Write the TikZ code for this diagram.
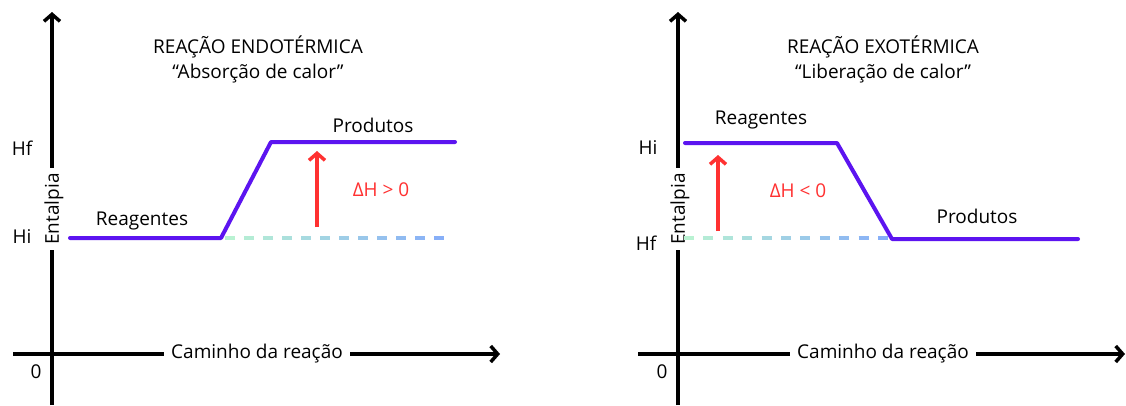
\documentclass[tikz,border=0pt]{standalone}
\usepackage{fontspec}
\setmainfont{Open Sans}
\usetikzlibrary{arrows.meta}
\definecolor{purp}{RGB}{92,20,240}
\definecolor{redarr}{RGB}{255,49,49}
\definecolor{dgreen}{RGB}{185,242,210}
\definecolor{dblue}{RGB}{135,175,248}
\begin{document}
\begin{tikzpicture}[x=1pt,y=-1pt,
  axis/.style={line width=3.5pt,-{Straight Barb[length=7pt,width=16pt,line width=3.5pt]}},
  level/.style={line width=4pt,draw=purp,line join=round,line cap=round},
  dharrow/.style={line width=4pt,draw=redarr,-{Straight Barb[length=7pt,width=16pt,line width=3.5pt]}},
  lbl/.style={font=\fontsize{19}{22}\selectfont,text=black,inner sep=0pt},
  gaplbl/.style={lbl,fill=white,inner xsep=7pt,inner ysep=1pt},
  dhlbl/.style={lbl,text=redarr},
  dashpiece/.style={line width=4pt}
]
\useasboundingbox (0,0) rectangle (1126,405);
\fill[white] (0,0) rectangle (1126,405);

% ---------------- left: endothermic ----------------
\coordinate (Lyb) at (52,405);
\coordinate (Lyt) at (52,12);
\coordinate (Lxl) at (13,354);
\coordinate (Lxr) at (500,354);
\draw[axis] (Lyb) -- (Lyt);
\draw[axis] (Lxl) -- (Lxr);
\node[gaplbl] (Lx) at (257,354) {Caminho da reação};
\node[gaplbl,rotate=90,inner xsep=5pt] (Ly) at (54,209) {Entalpia};
\node[lbl] (Lhf) at (22,148) {Hf};
\node[lbl] (Lhi) at (22,237) {Hi};
\node[lbl] (L0) at (36,372) {0};
\node[lbl] (Lt1) at (258,47) {REAÇÃO ENDOTÉRMICA};
\node[lbl] (Lt2) at (258,74) {“Absorção de calor”};
\node[lbl] (Lreag) at (142,221) {Reagentes};
\node[lbl] (Lprod) at (373,125) {Produtos};
\node[dhlbl] (Ldh) at (381,190) {ΔH > 0};
\coordinate (La) at (70,238);
\coordinate (Lb) at (221,238);
\coordinate (Lc) at (271,142);
\coordinate (Ld) at (455,142);
\foreach \i in {0,...,11}{
  \pgfmathsetmacro{\p}{\i/11*100}
  \draw[dashpiece,draw={dblue!\p!dgreen}] (225+\i*19,238) -- (235+\i*19,238);
}
\draw[level] (La) -- (Lb) -- (Lc) -- (Ld);
\coordinate (Lar1) at (317,227);
\coordinate (Lar2) at (317,151);
\draw[dharrow] (Lar1) -- (Lar2);

% ---------------- right: exothermic ----------------
\coordinate (Ryb) at (678,405);
\coordinate (Ryt) at (678,12);
\coordinate (Rxl) at (638,354);
\coordinate (Rxr) at (1125,354);
\draw[axis] (Ryb) -- (Ryt);
\draw[axis] (Rxl) -- (Rxr);
\node[gaplbl] (Rx) at (883,354) {Caminho da reação};
\node[gaplbl,rotate=90,inner xsep=5pt] (Ry) at (680,209) {Entalpia};
\node[lbl] (Rhi) at (648,148) {Hi};
\node[lbl] (Rhf) at (646,243) {Hf};
\node[lbl] (R0) at (662,372) {0};
\node[lbl] (Rt1) at (883,47) {REAÇÃO EXOTÉRMICA};
\node[lbl] (Rt2) at (883,74) {“Liberação de calor”};
\node[lbl] (Rreag) at (761,120) {Reagentes};
\node[lbl] (Rprod) at (977,216) {Produtos};
\node[dhlbl] (Rdh) at (798,191) {ΔH < 0};
\coordinate (Ra) at (685,143);
\coordinate (Rb) at (837,143);
\coordinate (Rc) at (892,239);
\coordinate (Rd) at (1078,239);
\foreach \i in {0,...,10}{
  \pgfmathsetmacro{\p}{\i/10*100}
  \draw[dashpiece,draw={dblue!\p!dgreen}] (684+\i*19.4,238) -- (694+\i*19.4,238);
}
\draw[level] (Ra) -- (Rb) -- (Rc) -- (Rd);
\coordinate (Rar1) at (718,231);
\coordinate (Rar2) at (718,155);
\draw[dharrow] (Rar1) -- (Rar2);
\end{tikzpicture}
\end{document}
